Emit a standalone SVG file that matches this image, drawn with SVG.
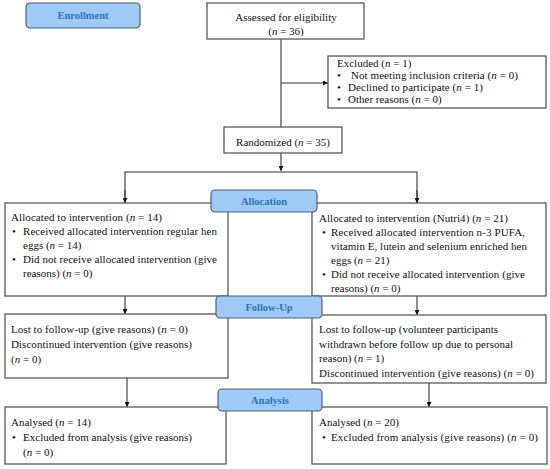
<svg xmlns="http://www.w3.org/2000/svg" width="550" height="469" viewBox="0 0 550 469">
<style>
.box{fill:#fff;stroke:#595959;stroke-width:1.3}
.lab{fill:#9fc9f7;stroke:#4f5f6f;stroke-width:1.2}
.lt{font-family:'Liberation Serif','Times New Roman',Tinos,'DejaVu Serif',serif;font-size:10.5px;font-weight:bold;fill:#2e74b5;text-anchor:middle}
.t{font-family:'Liberation Serif','Times New Roman',Tinos,'DejaVu Serif',serif;font-size:11px;fill:#111}
.c{text-anchor:middle}
.ln{fill:none;stroke:#333;stroke-width:1.1}
</style>
<defs>
<marker id="ah" viewBox="0 0 10 10" refX="10" refY="5" markerWidth="5" markerHeight="5" orient="auto" markerUnits="userSpaceOnUse">
<path d="M0,0 L10,5 L0,10 z" fill="#111"/>
</marker>
</defs>
<rect width="550" height="469" fill="#fff"/>
<g id="connectors">
<path class="ln" d="M281,39 V127"/>
<path class="ln" d="M281,83 H328" marker-end="url(#ah)"/>
<path class="ln" d="M281,153 V171" marker-end="url(#ah)"/>
<path class="ln" d="M125,203 V172 H417 V203" />
<path class="ln" d="M125,190 V203" marker-end="url(#ah)"/>
<path class="ln" d="M417,190 V203" marker-end="url(#ah)"/>
<path class="ln" d="M125,296 V314" marker-end="url(#ah)"/>
<path class="ln" d="M417,296 V315" marker-end="url(#ah)"/>
<path class="ln" d="M127,378 V407" marker-end="url(#ah)"/>
<path class="ln" d="M429,383 V407" marker-end="url(#ah)"/>
</g>
<g id="assessed">
<rect class="box" x="207" y="3" width="157" height="36"/>
<text class="t c" x="286" y="21" font-family="Liberation Serif, serif">Assessed  for  eligibility</text>
<text class="t c" x="286" y="35">(<tspan font-style="italic">n</tspan> = 36)</text>
</g>
<g id="excluded">
<rect class="box" x="328" y="56" width="218" height="52"/>
<text class="t" x="337" y="67">Excluded  (<tspan font-style="italic">n</tspan> = 1)</text>
<text class="t" x="337" y="79">•</text>
<text class="t" x="351" y="79" textLength="167" lengthAdjust="spacing">Not meeting  inclusion  criteria  (<tspan font-style="italic">n</tspan> = 0)</text>
<text class="t" x="337" y="91">•</text>
<text class="t" x="348" y="91" textLength="135" lengthAdjust="spacing">Declined  to participate  (<tspan font-style="italic">n</tspan> = 1)</text>
<text class="t" x="337" y="103">•</text>
<text class="t" x="348" y="103">Other reasons (<tspan font-style="italic">n</tspan> = 0)</text>
</g>
<g id="randomized">
<rect class="box" x="224" y="127" width="118" height="26"/>
<text class="t c" x="283" y="146">Randomized  (<tspan font-style="italic">n</tspan> = 35)</text>
</g>
<g id="alloc-left">
<rect class="box" x="5" y="203" width="223" height="93"/>
<text class="t" x="11" y="221" textLength="151" lengthAdjust="spacing">Allocated  to intervention  (<tspan font-style="italic">n</tspan> = 14)</text>
<text class="t" x="12" y="235">•</text>
<text class="t" x="23" y="235" textLength="194" lengthAdjust="spacing">Received allocated intervention regular hen</text>
<text class="t" x="23" y="249">eggs (<tspan font-style="italic">n</tspan> = 14)</text>
<text class="t" x="12" y="263">•</text>
<text class="t" x="23" y="263" textLength="194" lengthAdjust="spacing">Did not receive allocated intervention (give</text>
<text class="t" x="23" y="277">reasons) (<tspan font-style="italic">n</tspan> = 0)</text>
</g>
<g id="alloc-right">
<rect class="box" x="312" y="203" width="234" height="93"/>
<text class="t" x="319" y="222" textLength="189" lengthAdjust="spacing">Allocated  to intervention  (Nutri4)  (<tspan font-style="italic">n</tspan> = 21)</text>
<text class="t" x="322" y="236">•</text>
<text class="t" x="331" y="236" textLength="194" lengthAdjust="spacing">Received allocated intervention n-3 PUFA,</text>
<text class="t" x="331" y="250" textLength="196" lengthAdjust="spacing">vitamin E, lutein and selenium enriched hen</text>
<text class="t" x="331" y="264">eggs (<tspan font-style="italic">n</tspan> = 21)</text>
<text class="t" x="322" y="278">•</text>
<text class="t" x="331" y="278" textLength="194" lengthAdjust="spacing">Did not receive allocated intervention (give</text>
<text class="t" x="331" y="292">reasons) (<tspan font-style="italic">n</tspan> = 0)</text>
</g>
<g id="fu-left">
<rect class="box" x="5" y="314" width="223" height="64"/>
<text class="t" x="11" y="333" textLength="177" lengthAdjust="spacing">Lost to follow-up  (give  reasons) (<tspan font-style="italic">n</tspan> = 0)</text>
<text class="t" x="11" y="348" textLength="181" lengthAdjust="spacing">Discontinued  intervention  (give  reasons)</text>
<text class="t" x="11" y="363">(<tspan font-style="italic">n</tspan> = 0)</text>
</g>
<g id="fu-right">
<rect class="box" x="312" y="315" width="234" height="68"/>
<text class="t" x="319" y="333" textLength="179" lengthAdjust="spacing">Lost to follow-up  (volunteer  participants</text>
<text class="t" x="319" y="347.5" textLength="194" lengthAdjust="spacing">withdrawn  before follow  up due to personal</text>
<text class="t" x="319" y="362">reason) (<tspan font-style="italic">n</tspan> = 1)</text>
<text class="t" x="319" y="376.5" textLength="215" lengthAdjust="spacing">Discontinued  intervention  (give  reasons)  (<tspan font-style="italic">n</tspan> = 0)</text>
</g>
<g id="an-left">
<rect class="box" x="5" y="407" width="221" height="57"/>
<text class="t" x="11" y="426">Analysed  (<tspan font-style="italic">n</tspan> = 14)</text>
<text class="t" x="12" y="441">•</text>
<text class="t" x="23" y="441" textLength="169" lengthAdjust="spacing">Excluded  from  analysis  (give  reasons)</text>
<text class="t" x="23" y="456">(<tspan font-style="italic">n</tspan> = 0)</text>
</g>
<g id="an-right">
<rect class="box" x="312" y="407" width="235" height="57"/>
<text class="t" x="319" y="426">Analysed  (<tspan font-style="italic">n</tspan> = 20)</text>
<text class="t" x="322" y="441">•</text>
<text class="t" x="331" y="441" textLength="207" lengthAdjust="spacing">Excluded  from  analysis  (give  reasons)  (<tspan font-style="italic">n</tspan> = 0)</text>
</g>
<g id="label-enrollment">
<rect class="lab" x="26" y="3" width="114" height="25" rx="4"/>
<text class="lt" x="83" y="19">Enrollment</text>
</g>
<g id="label-allocation">
<rect class="lab" x="211" y="190" width="106" height="22" rx="4"/>
<text class="lt" x="264" y="205">Allocation</text>
</g>
<g id="label-followup">
<rect class="lab" x="216" y="296" width="106" height="22" rx="4"/>
<text class="lt" x="269" y="311">Follow-Up</text>
</g>
<g id="label-analysis">
<rect class="lab" x="218" y="389" width="104" height="22" rx="4"/>
<text class="lt" x="270" y="404">Analysis</text>
</g>
</svg>
